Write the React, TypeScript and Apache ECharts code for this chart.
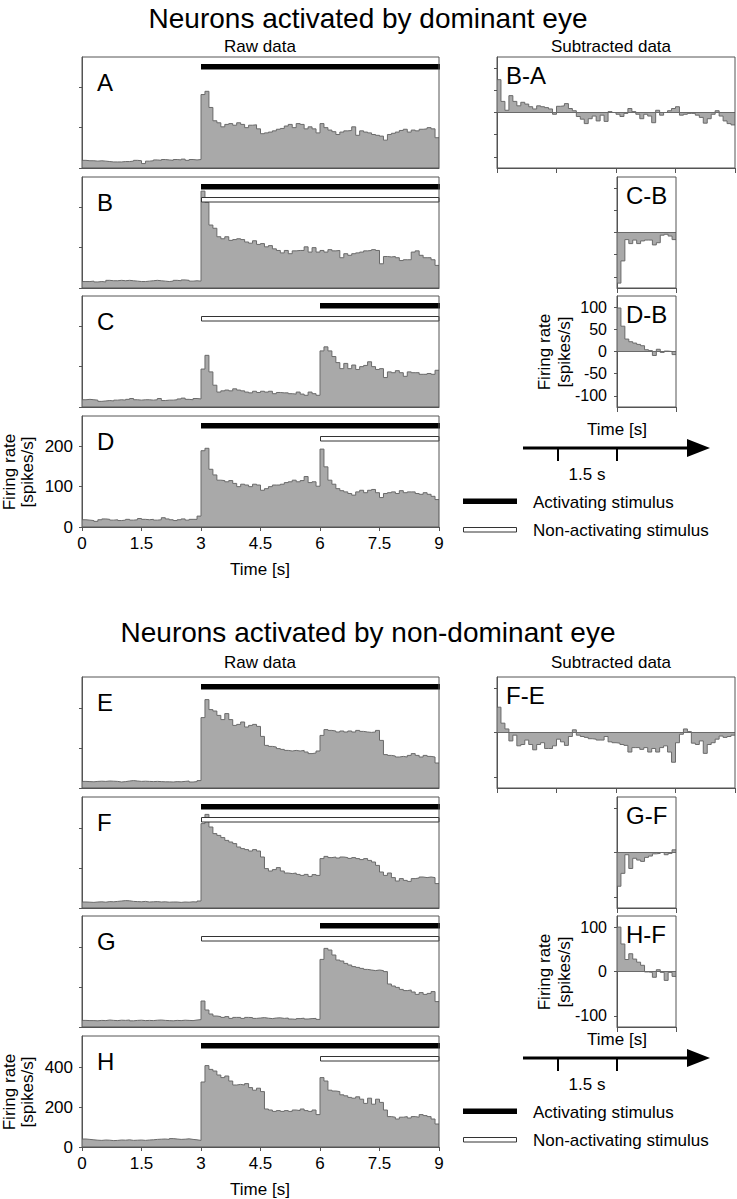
import React, { useEffect, useRef } from "react";
import * as echarts from "echarts";

const FONT = "'Liberation Sans', Arial, Helvetica, sans-serif";
const BIN_S = 0.1;

// Tick values
const rawTimeTicks = [0, 1.5, 3, 4.5, 6, 7.5, 9];
const subTimeTicksLong = [0, 1.5, 3, 4.5, 6];
const subTimeTicksShort = [0, 1.5];
const rawRateTicksTop = [0, 100, 200];
const rawRateTicksBottom = [0, 200, 400];
const subRateTicksTop = [-100, -50, 0, 50, 100];
const subRateTicksBottom = [-100, 0, 100];

// Stimulus bars: [start s, end s, kind] kind 0 = activating, 1 = non-activating
const ACT = 0;
const NON = 1;
const stimA = [[3, 9, ACT]];
const stimB = [[3, 9, ACT], [3, 9, NON]];
const stimC = [[6, 9, ACT], [3, 9, NON]];
const stimD = [[3, 9, ACT], [6, 9, NON]];
const stimE = [[3, 9, ACT]];
const stimF = [[3, 9, ACT], [3, 9, NON]];
const stimG = [[6, 9, ACT], [3, 9, NON]];
const stimH = [[3, 9, ACT], [6, 9, NON]];

// Firing rates (spikes/s), 100 ms bins, 0-9 s
const rateA = [
  19, 18, 18, 17, 18, 17, 16, 15, 15, 15,
  16, 16, 17, 19, 18, 11, 17, 18, 20, 19,
  21, 20, 19, 21, 20, 22, 19, 21, 20, 21,
  182, 190, 150, 117, 112, 102, 108, 110, 106, 112,
  108, 100, 106, 107, 97, 85, 87, 89, 92, 96,
  98, 104, 108, 100, 110, 108, 97, 102, 97, 87,
  110, 100, 94, 90, 83, 89, 92, 93, 102, 81,
  92, 89, 87, 83, 81, 79, 69, 83, 86, 89,
  93, 96, 89, 94, 92, 96, 97, 100, 97, 75,
];
const rateB = [
  16, 16, 17, 15, 16, 15, 19, 18, 18, 19,
  18, 19, 18, 17, 16, 16, 17, 18, 19, 18,
  17, 16, 17, 19, 18, 20, 19, 17, 18, 17,
  240, 212, 156, 148, 127, 122, 127, 118, 120, 122,
  120, 114, 111, 117, 108, 110, 102, 105, 97, 93,
  87, 93, 85, 92, 93, 93, 102, 89, 100, 89,
  93, 89, 95, 92, 93, 75, 85, 81, 85, 87,
  89, 92, 93, 95, 93, 60, 78, 77, 78, 75,
  68, 70, 70, 89, 92, 81, 75, 75, 70, 56,
];
const rateC = [
  18, 19, 18, 17, 14, 15, 16, 15, 17, 18,
  17, 19, 21, 18, 17, 18, 18, 17, 18, 21,
  16, 17, 17, 18, 20, 22, 19, 18, 21, 20,
  94, 128, 87, 54, 37, 40, 42, 40, 45, 42,
  40, 37, 35, 39, 36, 39, 37, 39, 33, 36,
  35, 35, 33, 32, 37, 32, 29, 37, 33, 29,
  139, 149, 139, 125, 110, 95, 108, 95, 104, 93,
  100, 103, 112, 100, 93, 95, 73, 87, 85, 90,
  85, 76, 87, 85, 85, 81, 81, 83, 81, 91,
];
const rateD = [
  18, 17, 16, 14, 18, 20, 19, 17, 18, 16,
  17, 19, 17, 18, 21, 19, 18, 19, 17, 18,
  23, 20, 18, 16, 18, 20, 17, 19, 19, 27,
  189, 195, 143, 129, 116, 115, 112, 115, 108, 100,
  106, 104, 100, 106, 104, 91, 95, 100, 104, 104,
  106, 110, 112, 116, 112, 115, 125, 110, 112, 101,
  193, 149, 116, 106, 95, 90, 87, 83, 79, 87,
  91, 85, 91, 93, 85, 73, 83, 85, 87, 83,
  90, 85, 87, 87, 83, 81, 85, 81, 76, 68,
];
const rateE = [
  33, 32, 31, 33, 34, 33, 35, 34, 33, 30,
  32, 35, 37, 35, 33, 34, 33, 32, 33, 32,
  31, 31, 30, 32, 31, 33, 35, 30, 32, 37,
  352, 442, 392, 385, 363, 342, 372, 342, 313, 318,
  330, 305, 313, 318, 308, 258, 213, 208, 205, 197,
  193, 188, 185, 188, 185, 188, 180, 172, 175, 185,
  263, 292, 288, 285, 280, 285, 280, 285, 280, 288,
  283, 280, 278, 280, 288, 238, 167, 163, 160, 155,
  158, 155, 163, 172, 163, 155, 163, 158, 155, 125,
];
const rateF = [
  30, 29, 28, 30, 31, 29, 32, 31, 33, 35,
  37, 36, 33, 32, 31, 33, 30, 31, 32, 30,
  31, 29, 30, 30, 28, 30, 29, 31, 30, 35,
  422, 468, 405, 372, 363, 352, 338, 330, 322, 305,
  297, 292, 285, 292, 285, 255, 197, 185, 192, 202,
  185, 175, 172, 175, 168, 163, 168, 158, 167, 163,
  247, 258, 252, 255, 250, 255, 252, 248, 252, 247,
  242, 247, 238, 230, 213, 180, 163, 175, 152, 135,
  147, 138, 133, 147, 150, 155, 152, 155, 152, 122,
];
const rateG = [
  33, 32, 32, 31, 33, 32, 35, 33, 32, 34,
  33, 35, 31, 33, 34, 32, 33, 32, 34, 35,
  33, 32, 31, 33, 32, 34, 33, 32, 35, 37,
  130, 85, 65, 55, 52, 48, 52, 43, 48, 48,
  43, 48, 47, 43, 45, 47, 44, 42, 45, 46,
  43, 45, 40, 38, 42, 44, 40, 42, 43, 38,
  338, 393, 385, 360, 335, 330, 318, 310, 302, 298,
  293, 288, 285, 282, 285, 282, 277, 215, 205, 198,
  188, 182, 185, 175, 163, 172, 163, 168, 177, 127,
];
const rateH = [
  40, 38, 36, 34, 33, 35, 34, 32, 33, 35,
  34, 36, 33, 34, 35, 33, 35, 36, 38, 39,
  40, 38, 42, 40, 38, 39, 41, 38, 36, 33,
  325, 407, 388, 380, 360, 347, 355, 330, 310, 313,
  310, 317, 297, 284, 294, 277, 190, 185, 178, 182,
  178, 182, 178, 185, 182, 190, 182, 178, 185, 162,
  347, 330, 284, 280, 277, 261, 256, 248, 244, 251,
  239, 218, 244, 214, 239, 223, 185, 152, 149, 140,
  149, 152, 145, 152, 149, 162, 157, 152, 140, 115,
];

// Subtracted data (spikes/s), 100 ms bins
const diffBA = [
  74, 25, 5, 38, 25, 15, 23, 19, 13, 8,
  15, 13, 11, 8, -4, 14, 15, 20, 9, 4,
  -9, -15, -25, -14, -8, -19, -6, -20, 2, 0,
  -4, -9, -2, 9, 2, -4, -14, -4, -8, -23,
  5, -6, 0, 4, 9, 13, -6, -4, -2, -2,
  -6, -11, -24, -14, -4, 4, -8, -19, -25, -28,
];
const diffCB = [-114, -64, -16, -25, -17, -25, -19, -17, -17, -28, -23, -6, -4, -8, -16];
const diffDB = [98, 57, 28, 22, 19, 16, 13, 4, 2, -9, 5, -2, 1, 0, -7];
const diffFE = [
  57, 21, 8, -19, -6, -30, -27, -17, -27, -39,
  -27, -23, -36, -36, -30, -15, -21, -29, -9, 6,
  -6, -9, -11, -14, -15, -17, -17, -9, -21, -23,
  -24, -27, -29, -44, -34, -34, -38, -34, -44, -36,
  -44, -34, -30, -44, -67, -23, -4, 8, 2, -24,
  -27, -19, -47, -27, -23, -15, -8, -11, -9, -6,
];
const diffGF = [-76, -47, -5, -36, -13, -17, -20, -11, -8, -3, -2, 0, -5, -2, 6];
const diffHF = [100, 62, 27, 40, 28, 21, 14, -1, -2, -13, 4, -2, -20, -2, -11];

function stepPoints(values: number[]) {
  const pts = values.map((v, i) => [Math.round(i * BIN_S * 100) / 100, v]);
  pts.push([Math.round(values.length * BIN_S * 100) / 100, values[values.length - 1]]);
  return pts;
}

const renderStim = (params: any, api: any) => {
  const s = api.coord([api.value(0), 0]);
  const e = api.coord([api.value(1), 0]);
  const kind = api.value(2);
  const cs = params.coordSys;
  if (kind === ACT) {
    return {
      type: "rect",
      shape: { x: s[0], y: cs.y + 7, width: e[0] - s[0] + 1, height: 5.5 },
      style: { fill: "#000" },
    };
  }
  return {
    type: "rect",
    shape: { x: s[0] + 0.5, y: cs.y + 20.5, width: e[0] - s[0] - 0.5, height: 4.5 },
    style: { fill: "#fff", stroke: "#333", lineWidth: 1 },
  };
};

function buildOption() {
  const grids: any[] = [];
  const xAxes: any[] = [];
  const yAxes: any[] = [];
  const series: any[] = [];
  const graphics: any[] = [];

  const text = (t: string, x: number, y: number, size: number, extra: any = {}) => ({
    type: "text",
    x,
    y,
    z: 120,
    silent: true,
    rotation: extra.rotation || 0,
    style: {
      text: t,
      fontSize: size,
      fontFamily: FONT,
      fill: "#000",
      align: extra.align || "center",
      verticalAlign: "middle",
      lineHeight: extra.lineHeight,
    },
  });

  const FRAME = "#555";
  const LINE = "#6a6a6a";
  const FILL = "#a9a9a9";

  const panels: any[] = [];
  const halves = [
    {
      dy: 0,
      raw: [
        ["A", rateA, stimA],
        ["B", rateB, stimB],
        ["C", rateC, stimC],
        ["D", rateD, stimD],
      ],
      rawMax: 275,
      rawTicks: rawRateTicksTop,
      subs: [
        ["B-A", diffBA, 0],
        ["C-B", diffCB, 1],
        ["D-B", diffDB, 2],
      ],
      subTicks: subRateTicksTop,
    },
    {
      dy: 620,
      raw: [
        ["E", rateE, stimE],
        ["F", rateF, stimF],
        ["G", rateG, stimG],
        ["H", rateH, stimH],
      ],
      rawMax: 555,
      rawTicks: rawRateTicksBottom,
      subs: [
        ["F-E", diffFE, 0],
        ["G-F", diffGF, 1],
        ["H-F", diffHF, 2],
      ],
      subTicks: subRateTicksBottom,
    },
  ];
  const rowTops = [57, 177, 296, 416];

  halves.forEach((h) => {
    h.raw.forEach((r: any, i: number) => {
      panels.push({
        label: r[0],
        values: r[1],
        stim: r[2],
        left: 82,
        top: rowTops[i] + h.dy,
        width: 357,
        height: 111,
        xMax: 9,
        yMin: 0,
        yMax: h.rawMax,
        yTicks: h.rawTicks,
        xTicks: rawTimeTicks,
        bottomRow: i === 3,
        raw: true,
      });
    });
    h.subs.forEach((s: any) => {
      const long = s[2] === 0;
      panels.push({
        label: s[0],
        values: s[1],
        left: long ? 497 : 617,
        top: rowTops[s[2]] + h.dy,
        width: long ? 238 : 59,
        height: 111,
        xMax: long ? 6 : 1.5,
        yMin: -125,
        yMax: 125,
        yTicks: h.subTicks,
        xTicks: long ? subTimeTicksLong : subTimeTicksShort,
        bottomRow: s[2] === 2,
        raw: false,
      });
    });
  });

  panels.forEach((p, gi) => {
    grids.push({ left: p.left, top: p.top, width: p.width, height: p.height });
    xAxes.push({
      gridIndex: gi,
      type: "value",
      min: 0,
      max: p.xMax,
      axisLine: { show: true, onZero: false, lineStyle: { color: FRAME, width: 1 } },
      axisTick: {
        show: !p.raw || p.bottomRow,
        customValues: p.xTicks,
        length: p.raw ? 4 : 5,
        lineStyle: { color: FRAME },
      },
      axisLabel: {
        show: p.raw && p.bottomRow,
        customValues: p.xTicks,
        fontSize: 17,
        fontFamily: FONT,
        color: "#000",
        margin: 8,
      },
      splitLine: { show: false },
    });
    yAxes.push({
      gridIndex: gi,
      type: "value",
      min: p.yMin,
      max: p.yMax,
      axisLine: { show: true, onZero: false, lineStyle: { color: FRAME, width: 1 } },
      axisTick: { show: true, customValues: p.yTicks, length: 3, lineStyle: { color: FRAME } },
      axisLabel: {
        show: p.bottomRow,
        customValues: p.yTicks,
        fontSize: p.raw ? 17 : 16,
        fontFamily: FONT,
        color: "#000",
        margin: p.raw ? 9 : 10,
      },
      splitLine: { show: false },
    });
    const s: any = {
      type: "line",
      xAxisIndex: gi,
      yAxisIndex: gi,
      step: "end",
      symbol: "none",
      data: stepPoints(p.values),
      lineStyle: { color: LINE, width: 1 },
      areaStyle: { color: FILL, opacity: 1 },
      z: 2,
      silent: true,
    };
    if (!p.raw) {
      s.markLine = {
        silent: true,
        symbol: "none",
        label: { show: false },
        lineStyle: { color: LINE, width: 1, type: "solid" },
        data: [{ yAxis: 0 }],
      };
    }
    series.push(s);
    if (p.stim) {
      series.push({
        type: "custom",
        xAxisIndex: gi,
        yAxisIndex: gi,
        data: p.stim,
        encode: { x: [0, 1], y: 2 },
        renderItem: renderStim,
        clip: false,
        z: 5,
        silent: true,
      });
    }
    graphics.push({
      type: "rect",
      z: 110,
      silent: true,
      shape: { x: p.left, y: p.top, width: p.width, height: p.height },
      style: { fill: "none", stroke: FRAME, lineWidth: 1 },
    });
    if (p.raw) {
      graphics.push(text(p.label, p.left + 15, p.top + 25, 24, { align: "left" }));
    } else {
      graphics.push(text(p.label, p.left + 9, p.top + 18.5, 24, { align: "left" }));
    }
  });

  // Titles and legends for each half
  const halfText = [
    { title: "Neurons activated by dominant eye", ty: 18, hy: 46, dy: 0, py: 0 },
    { title: "Neurons activated by non-dominant eye", ty: 632, hy: 662, dy: 610, py: 620 },
  ];
  halfText.forEach((t) => {
    graphics.push(text(t.title, 368, t.ty, 28));
    graphics.push(text("Raw data", 260, t.hy, 17));
    graphics.push(text("Subtracted data", 611, t.hy, 17));
    // y-axis names
    graphics.push(
      text("Firing rate\n[spikes/s]", 18, 472 + t.py, 17, { rotation: Math.PI / 2, lineHeight: 18 })
    );
    graphics.push(
      text("Firing rate\n[spikes/s]", 554, 352 + t.py, 17, { rotation: Math.PI / 2, lineHeight: 20 })
    );
    graphics.push(text("Time [s]", 260, 569 + t.py, 17));
    // subtracted time-scale arrow
    const d = t.dy;
    graphics.push(text("Time [s]", 617, 429 + d, 17));
    graphics.push({
      type: "line",
      z: 120,
      silent: true,
      shape: { x1: 523, y1: 448 + d, x2: 692, y2: 448 + d },
      style: { stroke: "#000", lineWidth: 3 },
    });
    graphics.push({
      type: "polygon",
      z: 120,
      silent: true,
      shape: { points: [[687, 439 + d], [710, 448 + d], [687, 457 + d]] },
      style: { fill: "#000" },
    });
    [558, 617].forEach((x) =>
      graphics.push({
        type: "line",
        z: 120,
        silent: true,
        shape: { x1: x, y1: 448 + d, x2: x, y2: 461 + d },
        style: { stroke: "#000", lineWidth: 2 },
      })
    );
    graphics.push(text("1.5 s", 587, 474 + d, 17));
    // legend
    graphics.push({
      type: "rect",
      z: 120,
      silent: true,
      shape: { x: 463, y: 498.5 + d, width: 54, height: 5.5 },
      style: { fill: "#000" },
    });
    graphics.push({
      type: "rect",
      z: 120,
      silent: true,
      shape: { x: 463.5, y: 527.5 + d, width: 53, height: 4.5 },
      style: { fill: "#fff", stroke: "#333", lineWidth: 1 },
    });
    graphics.push(text("Activating stimulus", 533, 502 + d, 17, { align: "left" }));
    graphics.push(text("Non-activating stimulus", 533, 530 + d, 17, { align: "left" }));
  });

  return {
    animation: false,
    backgroundColor: "#fff",
    textStyle: { fontFamily: FONT },
    grid: grids,
    xAxis: xAxes,
    yAxis: yAxes,
    series,
    graphic: { elements: graphics },
  };
}

export default function App() {
  const ref = useRef<HTMLDivElement>(null);
  useEffect(() => {
    if (!ref.current) return;
    const chart = echarts.init(ref.current, null, { renderer: "svg" });
    chart.setOption(buildOption() as any);
    return () => chart.dispose();
  }, []);
  return (
    <div
      ref={ref}
      style={{ position: "absolute", left: 0, top: 0, width: 737, height: 1199, background: "#fff" }}
    />
  );
}
